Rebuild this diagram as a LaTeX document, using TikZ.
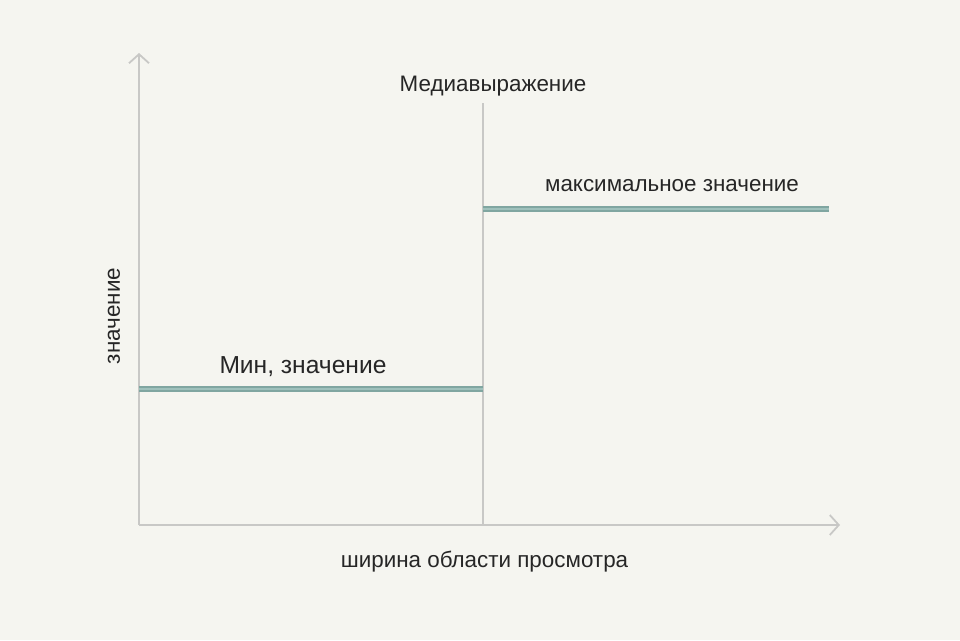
\documentclass[tikz,border=0pt]{standalone}
\usepackage{fontspec}
\setmainfont{Liberation Sans}
\usetikzlibrary{arrows.meta}
\definecolor{bg}{HTML}{F5F5F0}
\definecolor{axisgray}{HTML}{C8C8C6}
\definecolor{tealedge}{HTML}{80A6A1}
\definecolor{tealmid}{HTML}{9FC1BC}
\tikzset{
  axis/.style={draw=axisgray, line width=1.8pt, -{Straight Barb[length=9pt,width=20pt,line width=1.8pt]}},
  divider/.style={draw=axisgray, line width=1.4pt},
  level/.style={draw=tealedge, line width=5.5pt},
  levelmid/.style={draw=tealmid, line width=2.2pt},
  lbl/.style={font=\fontsize{22.4}{26}\selectfont, text=black!85, inner sep=0pt},
}
\begin{document}
\begin{tikzpicture}[x=1pt,y=-1pt]
\fill[bg] (0,0) rectangle (960,640);
\useasboundingbox (0,0) rectangle (960,640);
\coordinate (O) at (139,525);
\coordinate (ytip) at (139,53);
\coordinate (xtip) at (840,525);
\coordinate (vtop) at (483,103);
\coordinate (vbot) at (483,525);
\coordinate (lowA) at (139,389);
\coordinate (lowB) at (483,389);
\coordinate (upA) at (483,209);
\coordinate (upB) at (829,209);
\draw[axis] (O) -- (ytip);
\draw[axis] (O) -- (xtip);
\draw[divider] (vbot) -- (vtop);
\draw[level] (lowA) -- (lowB);
\draw[levelmid] (lowA) -- (lowB);
\draw[level] (upA) -- (upB);
\draw[levelmid] (upA) -- (upB);
\node[lbl] (media) at (493,86) {Медиавыражение};
\node[lbl] (maxv) at (672,186) {максимальное значение};
\node[lbl, font=\fontsize{24.6}{28}\selectfont] (minv) at (303,367) {Мин, значение};
\node[lbl, rotate=90] (yl) at (114,316) {значение};
\node[lbl] (xl) at (484.5,562) {ширина области просмотра};
\end{tikzpicture}
\end{document}
